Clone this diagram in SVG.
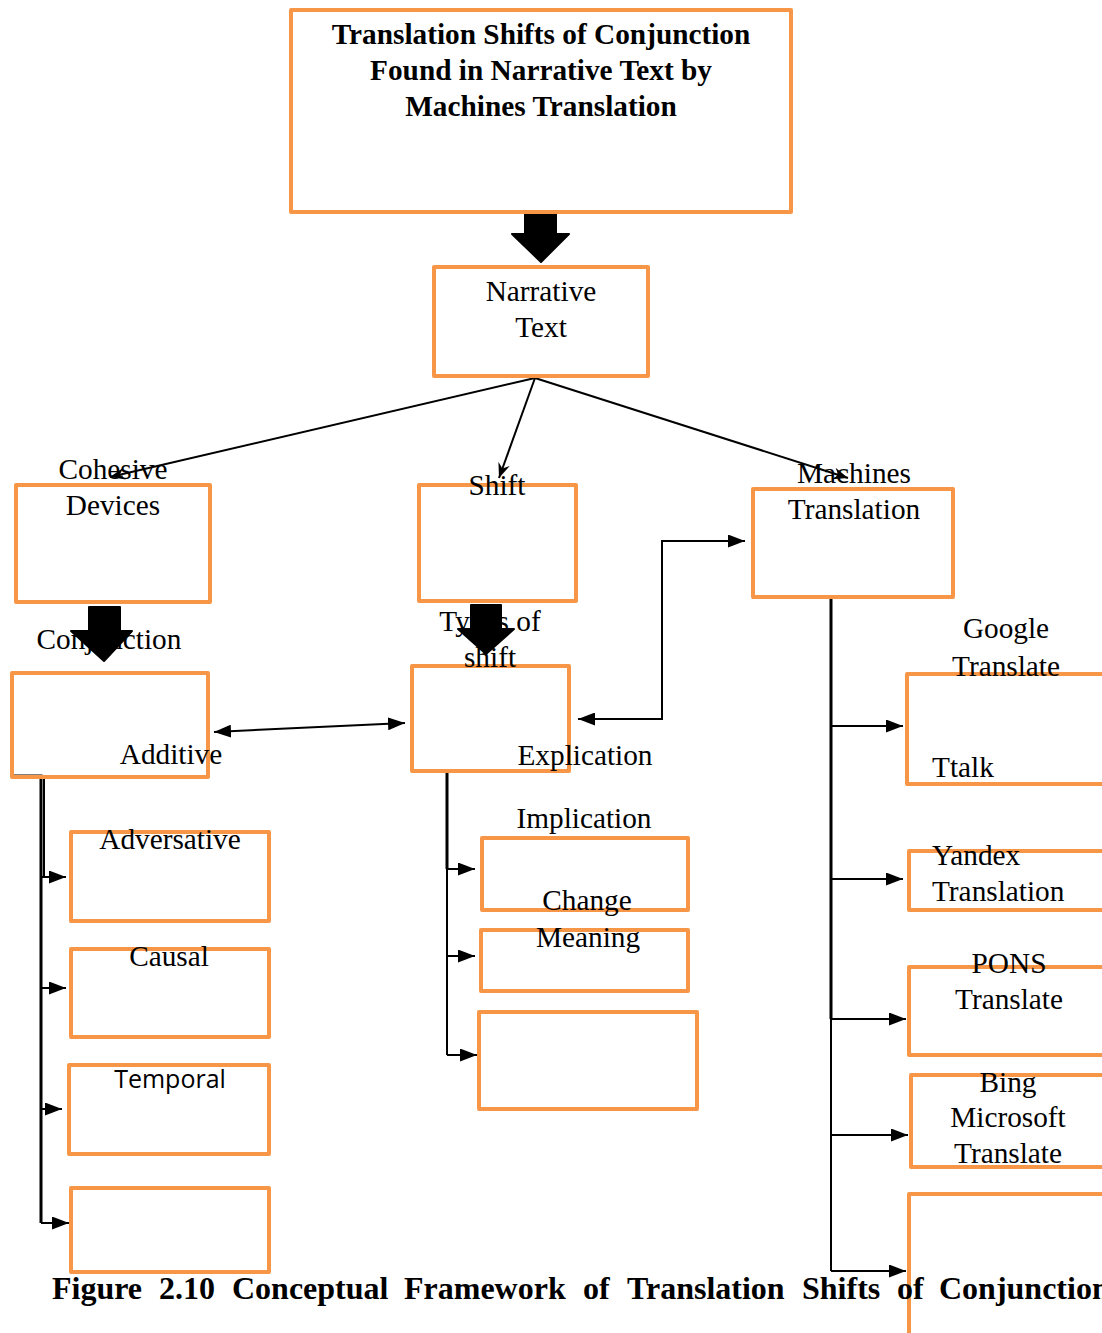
<svg xmlns="http://www.w3.org/2000/svg" width="1102" height="1333" viewBox="0 0 1102 1333">
<style>
.box{fill:none;stroke:#F79646;stroke-width:4;stroke-linejoin:round}
.t{font-family:"Liberation Serif","Times New Roman",serif;font-size:29.3px;fill:#000}
.c{text-anchor:middle}
.b{font-weight:bold}
.s{font-family:"Open Sans","Liberation Sans",sans-serif;font-size:25px;fill:#000}
.ln{fill:none;stroke:#000;stroke-width:2}
.thick{fill:none;stroke:#000;stroke-width:3}
.blk{fill:#000;stroke:#000;stroke-width:2;stroke-linejoin:round}
</style>
<defs>
<marker id="arr" markerUnits="userSpaceOnUse" markerWidth="17" markerHeight="13" refX="17" refY="6.5" orient="auto-start-reverse" viewBox="0 0 17 13">
<path d="M0,0 L17,6.5 L0,13 z" fill="#000"/>
</marker>
<marker id="barb" markerUnits="userSpaceOnUse" markerWidth="16" markerHeight="12" refX="15" refY="6" orient="auto" viewBox="0 0 16 12">
<path d="M0,0 L15,6 L0,12 L5,6 z" fill="#000"/>
</marker>
</defs>

<g id="connectors">
<path class="blk" d="M525,212 H556 V234 H569 L541,262 L512,234 H525 Z"/>
<path class="blk" d="M89,607 H120 V631 H132 L104,661 L71,631 H89 Z"/>
<path class="blk" d="M471,605 H501 V629 H514 L486,654 L458,629 H471 Z"/>
<line class="ln" x1="535" y1="378" x2="110" y2="477" marker-end="url(#barb)"/>
<line class="ln" x1="535" y1="378" x2="499" y2="478" marker-end="url(#barb)"/>
<line class="ln" x1="535" y1="378" x2="848" y2="478" marker-end="url(#barb)"/>
<line class="ln" x1="214" y1="732" x2="405" y2="723" marker-start="url(#arr)" marker-end="url(#arr)"/>
<path class="ln" d="M578,719 H662 V541 H745" marker-start="url(#arr)" marker-end="url(#arr)"/>
<path class="thick" d="M11,776 H41 V1223"/>
<path class="ln" d="M41,776 H44 V877"/>
<path class="ln" d="M41,877 H66" marker-end="url(#arr)"/>
<path class="ln" d="M41,988 H66" marker-end="url(#arr)"/>
<path class="ln" d="M41,1109 H62" marker-end="url(#arr)"/>
<path class="ln" d="M41,1223 H69" marker-end="url(#arr)"/>
<path class="thick" d="M415,771 H447 V869"/>
<path class="ln" d="M447,869 V1055"/>
<path class="ln" d="M447,869 H475" marker-end="url(#arr)"/>
<path class="ln" d="M447,956 H475" marker-end="url(#arr)"/>
<path class="ln" d="M447,1055 H477" marker-end="url(#arr)"/>
<path class="thick" d="M752,597 H831 V1019"/>
<path class="ln" d="M831,1019 V1271"/>
<path class="ln" d="M831,726 H903" marker-end="url(#arr)"/>
<path class="ln" d="M831,879 H903" marker-end="url(#arr)"/>
<path class="ln" d="M831,1019 H906" marker-end="url(#arr)"/>
<path class="ln" d="M831,1135 H908" marker-end="url(#arr)"/>
<path class="ln" d="M831,1271 H906" marker-end="url(#arr)"/>
</g>

<g id="title">
<rect class="box" x="291" y="10" width="500" height="202"/>
<text class="t c b" x="541" y="44">Translation Shifts of Conjunction</text>
<text class="t c b" x="541" y="80">Found in Narrative Text by</text>
<text class="t c b" x="541" y="116">Machines Translation</text>
</g>
<g id="narrative">
<rect class="box" x="434" y="267" width="214" height="109"/>
<text class="t c" x="541" y="301">Narrative</text>
<text class="t c" x="541" y="337">Text</text>
</g>
<g id="cohesive">
<rect class="box" x="16" y="485" width="194" height="117"/>
<text class="t c" x="113" y="479">Cohesive</text>
<text class="t c" x="113" y="515">Devices</text>
</g>
<g id="shift">
<rect class="box" x="419" y="485" width="157" height="116"/>
<text class="t c" x="497" y="495">Shift</text>
</g>
<g id="machines">
<rect class="box" x="753" y="489" width="200" height="108"/>
<text class="t c" x="854" y="483">Machines</text>
<text class="t c" x="854" y="519">Translation</text>
</g>
<g id="conjunction">
<rect class="box" x="12" y="673" width="196" height="104"/>
<text class="t c" x="109" y="649">Conjunction</text>
<text class="t c" x="171" y="764">Additive</text>
</g>
<g id="types">
<rect class="box" x="412" y="666" width="157" height="105"/>
<text class="t c" x="490" y="631">Types of</text>
<text class="t c" x="490" y="667">shift</text>
<text class="t c" x="585" y="765">Explication</text>
</g>
<g id="adversative">
<rect class="box" x="71" y="832" width="198" height="89"/>
<text class="t c" x="170" y="849">Adversative</text>
</g>
<g id="causal">
<rect class="box" x="71" y="949" width="198" height="88"/>
<text class="t c" x="169" y="966">Causal</text>
</g>
<g id="temporal">
<rect class="box" x="69" y="1065" width="200" height="89"/>
<text class="s c" x="170" y="1088">Temporal</text>
</g>
<g id="left-empty">
<rect class="box" x="71" y="1188" width="198" height="84"/>
</g>
<g id="implication">
<rect class="box" x="482" y="838" width="206" height="72"/>
<text class="t c" x="584" y="828">Implication</text>
</g>
<g id="change">
<rect class="box" x="481" y="930" width="207" height="61"/>
<text class="t c" x="587" y="910">Change</text>
<text class="t c" x="588" y="947">Meaning</text>
</g>
<g id="middle-empty">
<rect class="box" x="479" y="1012" width="218" height="97"/>
</g>
<g id="google">
<rect class="box" x="907" y="674" width="210" height="110"/>
<text class="t c" x="1006" y="638">Google</text>
<text class="t c" x="1006" y="676">Translate</text>
<text class="t" x="932" y="777">Ttalk</text>
</g>
<g id="yandex">
<rect class="box" x="909" y="851" width="210" height="59"/>
<text class="t" x="932" y="865">Yandex</text>
<text class="t" x="932" y="901">Translation</text>
</g>
<g id="pons">
<rect class="box" x="909" y="967" width="210" height="88"/>
<text class="t c" x="1009" y="973">PONS</text>
<text class="t c" x="1009" y="1009">Translate</text>
</g>
<g id="bing">
<rect class="box" x="911" y="1075" width="210" height="92"/>
<text class="t c" x="1008" y="1092">Bing</text>
<text class="t c" x="1008" y="1127">Microsoft</text>
<text class="t c" x="1008" y="1163">Translate</text>
</g>
<g id="right-empty">
<rect class="box" x="909" y="1194" width="210" height="160"/>
</g>
<text class="t b" style="font-size:32px" y="1299"><tspan x="52">Figure</tspan><tspan x="159">2.10</tspan><tspan x="232">Conceptual</tspan><tspan x="404">Framework</tspan><tspan x="583">of</tspan><tspan x="627">Translation</tspan><tspan x="802">Shifts</tspan><tspan x="897">of</tspan><tspan x="939">Conjunction</tspan></text>
</svg>
